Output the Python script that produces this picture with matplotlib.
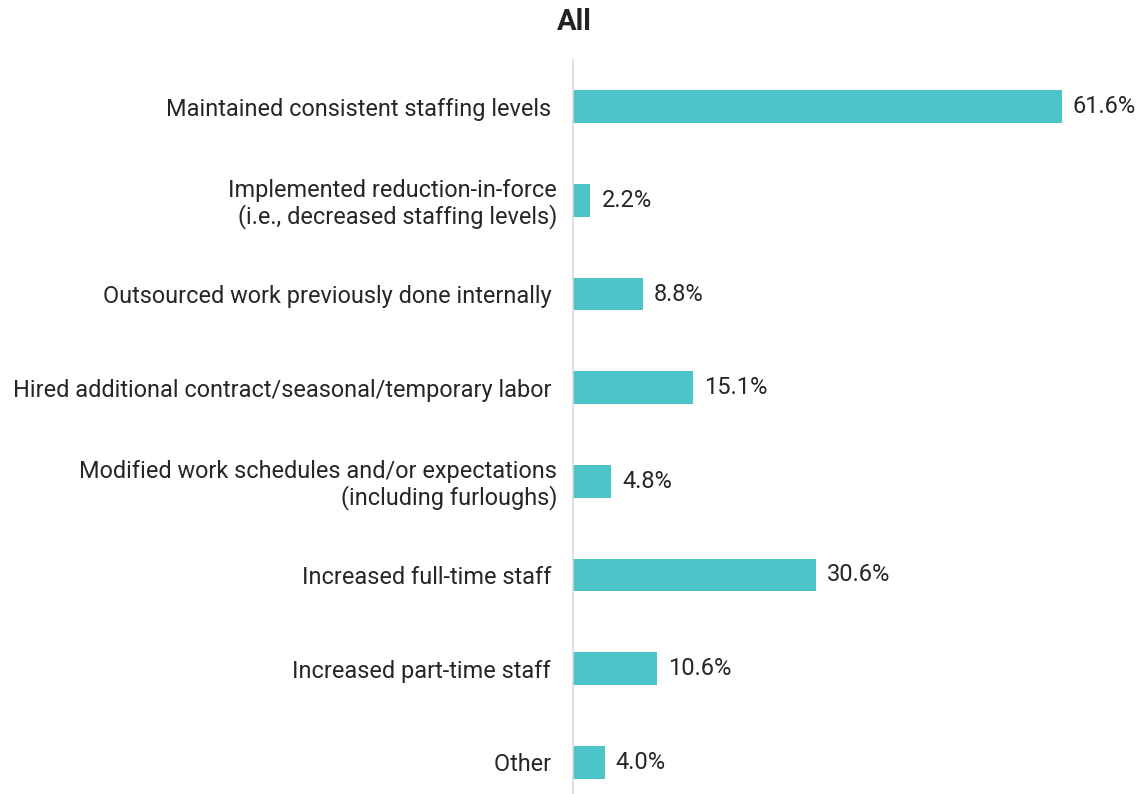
import matplotlib.pyplot as plt

plt.rcParams['font.family'] = ['Roboto', 'DejaVu Sans']

categories = [
    "Maintained consistent staffing levels ",
    "Implemented reduction-in-force\n(i.e., decreased staffing levels)",
    "Outsourced work previously done internally ",
    "Hired additional contract/seasonal/temporary labor ",
    "Modified work schedules and/or expectations\n(including furloughs)",
    "Increased full-time staff ",
    "Increased part-time staff ",
    "Other ",
]
values = [61.6, 2.2, 8.8, 15.1, 4.8, 30.6, 10.6, 4.0]
title = "All"

fig = plt.figure(figsize=(11.38, 7.94), dpi=100)
ax = fig.add_axes([573 / 1138, 0, 1 - 573 / 1138, 734 / 794])

y = list(range(len(categories)))
ax.barh(y, values, height=0.35, color="#4BC4C7")
ax.set_ylim(7.34, -0.5)
ax.set_xlim(0, 71.2)

for yi, v in zip(y, values):
    ax.text(v + 1.4, yi, f"{v:.1f}%", va="center", ha="left",
            fontsize=17, color="#262626")

ax.set_yticks(y)
ax.set_yticklabels(categories, fontsize=16.9, color="#262626",
                   linespacing=1.1)
ax.tick_params(axis="y", length=0, pad=11.5)
ax.set_xticks([])
for s in ["top", "right", "bottom"]:
    ax.spines[s].set_visible(False)
ax.spines["left"].set_color("#d9d9d9")
ax.spines["left"].set_linewidth(1.2)

fig.text(574 / 1138, 1 - 22 / 794, title, ha="center", va="center",
         fontsize=21, fontweight="bold", color="#222222")

fig.savefig("out.png", dpi=100)
